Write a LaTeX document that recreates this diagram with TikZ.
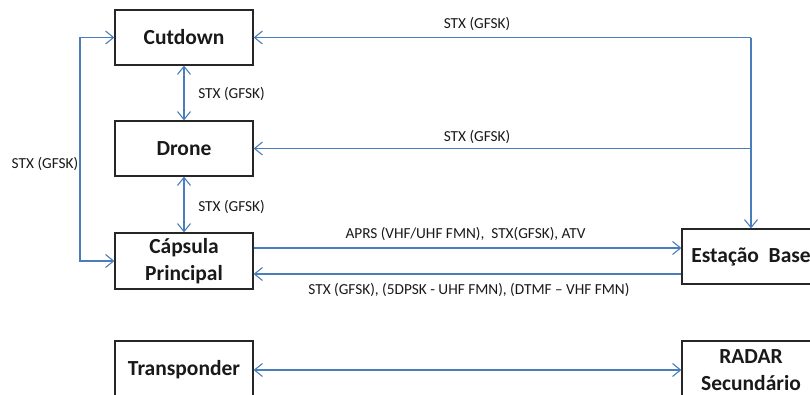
\documentclass[tikz,border=0pt]{standalone}
\usepackage{fontspec}
\setmainfont{Carlito}
\usetikzlibrary{arrows.meta}
\definecolor{lineblue}{HTML}{4A7EBB}
\begin{document}
\begin{tikzpicture}[x=1pt,y=-1pt,
  box/.style={draw=black!85, line width=1.2pt, minimum width=138pt, minimum height=55pt, inner sep=0pt, font=\fontsize{21.5}{26.5}\selectfont\bfseries, align=center, text=black!90},
  conn/.style={draw=lineblue, line width=1.1pt},
  tip/.style={-{Straight Barb[length=8pt,width=13pt]}},
  biarrow/.style={{Straight Barb[length=8pt,width=13pt]}-{Straight Barb[length=8pt,width=13pt]}},
  lbl/.style={font=\fontsize{15.3}{18}\selectfont, text=black!90, inner sep=0pt}]
\useasboundingbox (0,0) rectangle (810,394);
\clip (0,0) rectangle (810,394);
\node[box] (cut) at (184,37.5) {Cutdown};
\node[box] (dro) at (184,148.5) {Drone};
\node[box, minimum height=56pt] (cap) at (184,261) {Cápsula\\Principal};
\node[box] (est) at (751,256.5) {Estação\hspace{0.45em}Base};
\node[box, minimum height=58pt] (tra) at (184,370) {Transponder};
\node[box, minimum height=58pt] (rad) at (751,370) {RADAR\\Secundário};
\coordinate (R1) at (751,37.5);
\coordinate (R2) at (751,148.5);
\coordinate (L1) at (80,37.5);
\coordinate (L2) at (80,261);
\draw[conn,tip] (R1) -- (cut.east);
\draw[conn,tip] (R2) -- (dro.east);
\draw[conn,tip] (R1) -- (est.north);
\draw[conn,biarrow] (cut.south) -- (dro.north);
\draw[conn,biarrow] (dro.south) -- (cap.north);
\draw[conn,biarrow] (cut.west) -- (L1) -- (L2) -- (cap.west);
\draw[conn,tip] ([yshift=13pt]cap.east) -- ([yshift=13pt]cap.east -| est.west);
\draw[conn,tip] ([yshift=-13pt]cap.east -| est.west) -- ([yshift=-13pt]cap.east);
\draw[conn,biarrow] (tra.east) -- (rad.west);
\node[lbl] (l1) at (477,24) {STX (GFSK)};
\node[lbl] (l2) at (477,137) {STX (GFSK)};
\node[lbl] (l3) at (231.5,94) {STX (GFSK)};
\node[lbl] (l4) at (231.5,207) {STX (GFSK)};
\node[lbl] (l5) at (45,164) {STX (GFSK)};
\node[lbl] (l6) at (465.5,234) {APRS (VHF/UHF FMN),\ \ STX(GFSK), ATV};
\node[lbl] (l7) at (469,290) {STX (GFSK), (5DPSK - UHF FMN), (DTMF – VHF FMN)};
\end{tikzpicture}
\end{document}
